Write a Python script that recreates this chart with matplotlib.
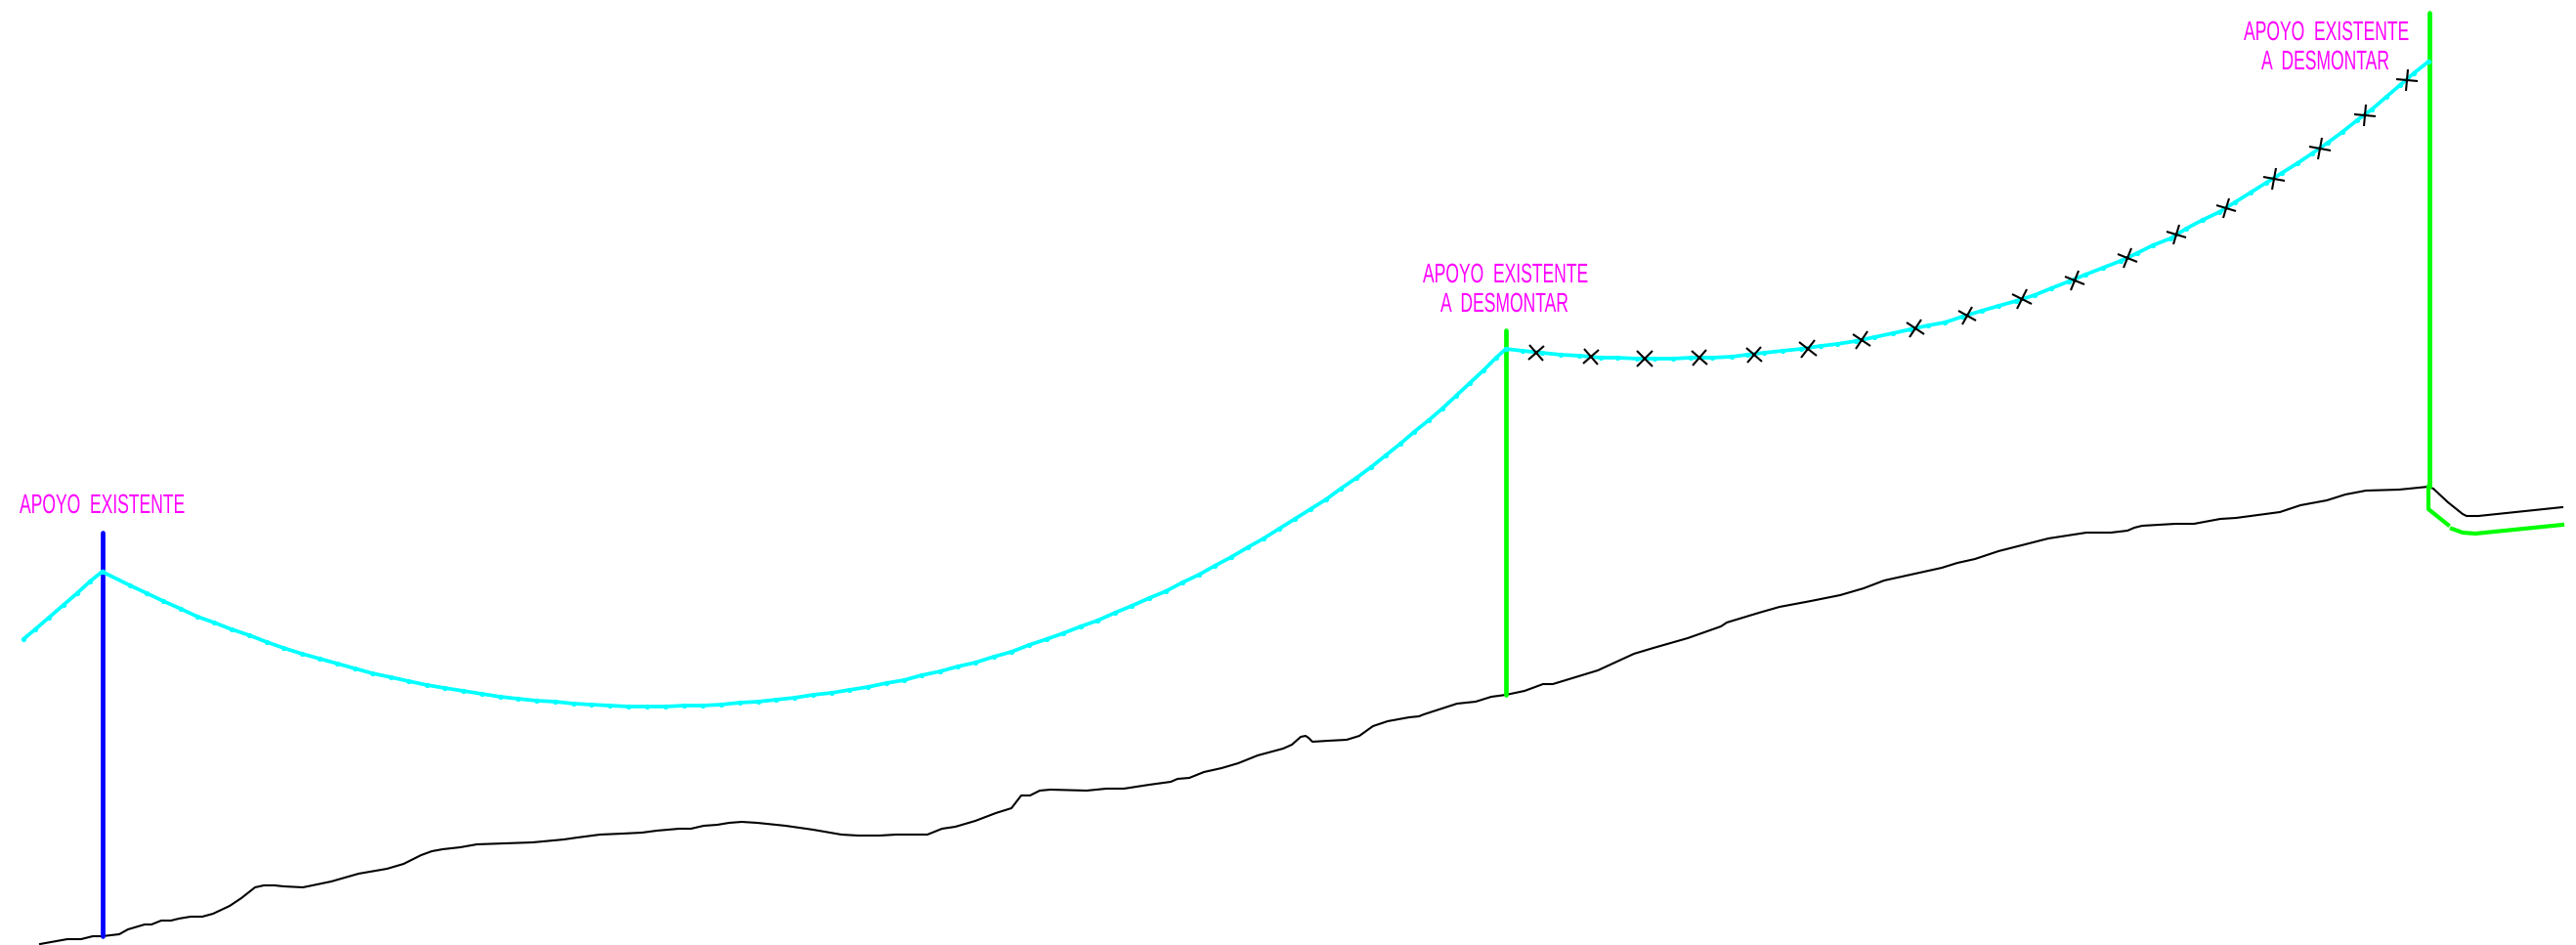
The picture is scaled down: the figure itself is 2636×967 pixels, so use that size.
import numpy as np
import matplotlib
matplotlib.use('Agg')
import matplotlib.pyplot as plt
from matplotlib.markers import MarkerStyle
from matplotlib.patheffects import AbstractPathEffect
from matplotlib.transforms import Affine2D

# perfil del terreno (x, y en unidades de dibujo)
ground_x = [41, 69, 83, 95, 104.5, 122, 131, 148, 155, 165, 175, 183, 195, 207, 218, 235, 247, 261, 270, 281,
            290, 310, 339, 367, 396, 413, 431, 442, 453, 471, 488, 517, 545, 577, 591, 614, 637, 657, 672, 695,
            707, 720, 734, 746, 759, 775, 804, 832, 861, 878, 900, 917, 949, 964, 977.5, 998, 1019, 1035, 1045,
            1054, 1064, 1075, 1112, 1132, 1150, 1176, 1198, 1205, 1217, 1232, 1250, 1267, 1287, 1313, 1322,
            1331, 1336, 1339, 1343, 1359, 1378, 1391, 1405, 1420, 1442, 1452, 1457, 1491, 1510, 1526, 1541,
            1560, 1579, 1589, 1635, 1672, 1692, 1727, 1761, 1767, 1800, 1821, 1853, 1883, 1907, 1928, 1955,
            1987, 2003, 2021, 2045, 2096, 2135, 2160, 2177, 2184, 2192, 2226, 2245, 2272, 2288, 2333, 2354,
            2381, 2400, 2421, 2455, 2485, 2490, 2505, 2520, 2524, 2536, 2622]
ground_y = [966, 961, 961, 958, 958, 956, 951, 946, 946, 942, 942, 940, 938, 938, 935, 927, 919, 908, 906, 906,
            907, 908, 902, 894, 889, 884, 875, 871, 869, 867, 864, 863, 862, 859, 857, 854, 853, 852, 850, 848,
            848, 845, 844, 842, 841, 842, 845, 849, 854, 855, 855, 854, 854, 848, 846, 840, 832, 827, 814,
            814, 809, 808, 809, 807, 807, 803, 800, 797, 796, 790, 786, 781, 773, 766, 762,
            754, 753, 755, 759, 758, 757, 753, 743, 738, 734, 733, 731, 720, 718, 713, 711,
            707, 700, 700, 686, 669, 663, 653, 641, 637, 627, 621, 615, 609, 602, 594, 588,
            581, 576, 572, 564, 551, 545, 545, 543, 540, 538, 536, 536, 531, 530, 524, 517,
            512, 506, 502, 501, 498, 500, 514, 526, 528, 528, 519]

# rasante verde al pie del ultimo apoyo (dos tramos)
grade_a_x = [2485, 2485, 2505]
grade_a_y = [498, 521, 537]
grade_b_x = [2509, 2520, 2533, 2622]
grade_b_y = [541, 545, 546, 537]

# conductores
stub_x = [24, 36, 50, 65, 79, 92, 104.5]
stub_y = [654, 644, 632, 619, 607, 595, 585]
span1_x = [104.5, 133, 150, 167, 185, 202, 219, 237, 255, 273, 290, 309, 327, 345, 363, 381, 400, 418, 437, 455,
           474, 493, 512, 530, 549, 568, 587, 605, 624, 643, 662, 681, 700, 719, 738, 757, 776, 794, 813, 832,
           851, 869, 888, 907, 925, 943, 962, 980, 998, 1017, 1035, 1053, 1071, 1088, 1106, 1123, 1141, 1158,
           1176, 1193, 1210, 1227, 1243, 1260, 1277, 1293, 1309, 1325, 1341, 1357, 1372, 1388, 1403, 1418, 1433,
           1447, 1462, 1476, 1490, 1504, 1518, 1531, 1541]
span1_y = [585, 599, 607, 615, 623, 631, 637, 644, 650, 657, 663, 669, 674, 679, 684, 689, 693, 697, 701, 704,
           707, 710, 713, 715, 717, 718, 720, 721, 722, 723, 723, 723, 722, 722, 721, 719, 718, 716, 714, 711,
           709, 706, 703, 699, 696, 691, 687, 682, 678, 672, 667, 660, 654, 648, 641, 635, 627, 620,
           612, 605, 596, 588, 579, 570, 560, 551, 541, 531, 521, 511, 500, 489, 478, 466, 454,
           442, 430, 418, 405, 392, 379, 366, 357]
span2_x = [1541, 1558, 1578, 1597, 1616, 1638, 1655, 1675, 1693, 1712, 1730, 1752, 1772, 1788, 1805, 1824, 1843,
           1863, 1880, 1899, 1918, 1937, 1955, 1973, 1990, 2008, 2028, 2045, 2063, 2082, 2099, 2117, 2134, 2152,
           2170, 2187, 2203, 2221, 2237, 2254, 2271, 2287, 2303, 2319, 2335, 2351, 2366, 2382, 2397, 2412, 2427,
           2442, 2456, 2470, 2485]
span2_y = [357, 359, 361, 363, 364, 366, 366, 367, 367, 367, 366, 366, 365, 363, 361, 359, 357,
           354, 352, 349, 345, 341, 337, 333, 330, 324, 318, 313, 308, 302, 295, 288, 281, 274,
           267, 259, 251, 244, 234, 225, 217, 207, 197, 187, 177, 167, 157, 146, 135, 123, 112,
           99, 87, 75, 63]

# marcas X del vano a desmontar
mark_x = [1572, 1628, 1683, 1739, 1795, 1850, 1905, 1960, 2013, 2069, 2123, 2177, 2227, 2278, 2327, 2374, 2420, 2463]
mark_y = [361, 365, 367, 366, 363, 357, 348, 336, 323, 306, 287, 264, 240, 213, 183, 152, 118, 82]

# apoyos: x, cabeza, pie
pole_x = [104.5, 1541, 2486]
pole_top = [545, 338, 13]
pole_foot = [958, 711, 498]
pole_color = ['#0000ff', '#00ff00', '#00ff00']

# rotulos
label_text = ['APOYO  EXISTENTE', 'APOYO  EXISTENTE', 'A  DESMONTAR', 'APOYO  EXISTENTE', 'A  DESMONTAR']
label_x = [20, 1456, 1474, 2296, 2314]
label_y = [525, 289, 319, 41, 71]


class Squeeze(AbstractPathEffect):
    # la fuente de CAD es mucho mas estrecha que las instaladas
    def __init__(self, sx):
        super().__init__()
        self.sx = sx

    def draw_path(self, renderer, gc, tpath, affine, rgbFace=None):
        renderer.draw_path(gc, tpath, Affine2D().scale(self.sx, 1) + affine, rgbFace)


fig = plt.figure(figsize=(26.36, 9.67), dpi=100)
ax = fig.add_axes([0, 0, 1, 1])
ax.set_xlim(0, 2636)
ax.set_ylim(967, 0)
ax.axis('off')

ax.plot(ground_x, ground_y, color='black', lw=1.5, zorder=2, solid_joinstyle='round')

for x, top, foot, c in zip(pole_x, pole_top, pole_foot, pole_color):
    ax.plot([x, x], [top, foot], color=c, lw=3.4, solid_capstyle='round', zorder=3)

ax.plot(grade_a_x, grade_a_y, color='#00ff00', lw=3.0, zorder=3)
ax.plot(grade_b_x, grade_b_y, color='#00ff00', lw=3.0, zorder=3)

# los vertices del cable se notan como puntos en el original
for cx, cy in [(stub_x, stub_y), (span1_x, span1_y), (span2_x, span2_y)]:
    ax.plot(cx, cy, color='#00ffff', lw=2.7, marker='o', markersize=3.8, markeredgewidth=0,
            solid_capstyle='round', zorder=4)

# cada X gira con la pendiente del cable
angles = np.degrees(np.arctan2(-np.gradient(mark_y), np.gradient(mark_x)))
for x, y, a in zip(mark_x, mark_y, angles):
    ax.plot([x], [y], linestyle='none', color='black', markersize=11, markeredgewidth=1.5, zorder=5,
            marker=MarkerStyle('x', transform=Affine2D().rotate_deg(a)))

for s, x, y in zip(label_text, label_x, label_y):
    ax.text(x, y, s, color='#ff00ff', fontsize=20, family='Liberation Sans', ha='left', va='baseline',
            path_effects=[Squeeze(0.63)])

fig.savefig('out.png', dpi=100, facecolor='white')
